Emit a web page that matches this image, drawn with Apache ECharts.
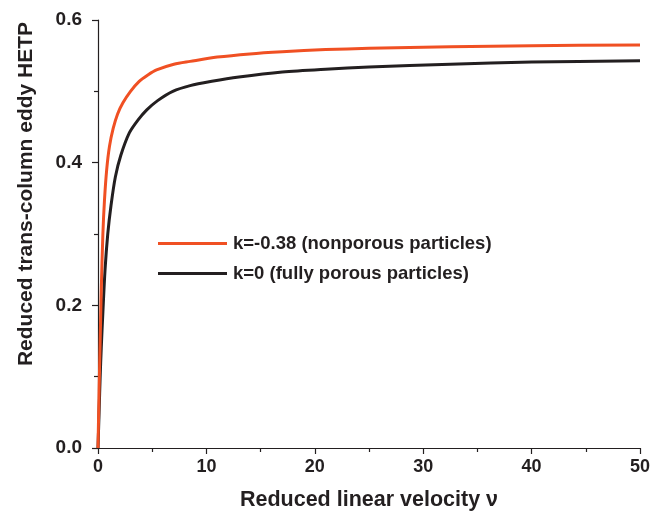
<!DOCTYPE html>
<html>
<head>
<meta charset="utf-8">
<script src="https://cdn.jsdelivr.net/npm/echarts@6/dist/echarts.min.js"></script>
<style>
  html, body { margin: 0; padding: 0; background: #fff; }
  #chart { width: 652px; height: 512px; }
</style>
</head>
<body>
<div id="chart"></div>
<script>
// Reduced linear velocity (x) and reduced trans-column eddy HETP (y)
const nonporousV = [0, 0.1, 0.2, 0.3, 0.45, 0.6, 0.8, 1.06, 1.4, 1.8, 2.3, 3, 3.8, 4.6, 5.4, 7, 8.5, 11, 14, 17, 21, 25, 32.5, 40, 50];
const nonporousH = [0, 0.08, 0.15, 0.22, 0.30, 0.348, 0.39, 0.423, 0.448, 0.468, 0.484, 0.500, 0.514, 0.523, 0.530, 0.538, 0.542, 0.548, 0.5525, 0.5555, 0.5585, 0.5603, 0.5625, 0.564, 0.565];

const porousV = [0, 0.1, 0.2, 0.3, 0.45, 0.65, 0.9, 1.2, 1.6, 2.1, 2.9, 3.7, 4.5, 5.5, 6.9, 8.5, 10.5, 13, 17, 21, 25, 32.5, 40, 50];
const porousH = [0, 0.05, 0.10, 0.14, 0.19, 0.25, 0.30, 0.34, 0.38, 0.41, 0.442, 0.460, 0.474, 0.487, 0.500, 0.508, 0.514, 0.520, 0.527, 0.531, 0.534, 0.538, 0.541, 0.543];

const seriesNames = ['k=-0.38 (nonporous particles)', 'k=0 (fully porous particles)'];
const xTitle = 'Reduced linear velocity \u03bd';
const yTitle = 'Reduced trans-column eddy HETP';

const pairs = (xs, ys) => xs.map((x, i) => [x, ys[i]]);
const ink = '#231f20';
const font = 'Liberation Sans, Arial, sans-serif';

const chart = echarts.init(document.getElementById('chart'));
chart.setOption({
  animation: false,
  backgroundColor: '#fff',
  grid: { left: 98, right: 12, top: 20, bottom: 64, containLabel: false, outerBoundsMode: 'none' },
  legend: {
    orient: 'vertical',
    left: 153,
    top: 229,
    icon: 'rect',
    itemWidth: 69,
    itemHeight: 3,
    itemGap: 11,
    textStyle: { fontFamily: font, fontWeight: 'bold', fontSize: 18.5, color: ink, padding: [0, 0, 0, 1] },
    data: seriesNames
  },
  graphic: [{
    type: 'text',
    x: 26,
    y: 194,
    rotation: Math.PI / 2,
    style: {
      text: yTitle,
      fontFamily: font, fontWeight: 'bold', fontSize: 21,
      fill: ink,
      align: 'center',
      verticalAlign: 'middle'
    }
  }],
  xAxis: {
    type: 'value',
    min: 0, max: 50, interval: 10,
    name: xTitle,
    nameLocation: 'middle',
    nameGap: 41,
    nameTextStyle: { fontFamily: font, fontWeight: 'bold', fontSize: 21.5, color: ink },
    axisLine: { show: true, lineStyle: { color: ink, width: 1.2 } },
    axisTick: { show: true, length: 6, lineStyle: { color: ink, width: 1.2 } },
    minorTick: { show: true, splitNumber: 2, length: 4, lineStyle: { color: ink, width: 1.2 } },
    axisLabel: { fontFamily: font, fontWeight: 'bold', fontSize: 18, color: ink, margin: 10 },
    splitLine: { show: false }
  },
  yAxis: {
    type: 'value',
    min: 0, max: 0.6, interval: 0.2,
    axisLine: { show: true, lineStyle: { color: ink, width: 1.2 } },
    axisTick: { show: true, length: 6, lineStyle: { color: ink, width: 1.2 } },
    minorTick: { show: true, splitNumber: 2, length: 4, lineStyle: { color: ink, width: 1.2 } },
    axisLabel: { fontFamily: font, fontWeight: 'bold', fontSize: 19, color: ink, margin: 16,
      formatter: v => v.toFixed(1) },
    splitLine: { show: false }
  },
  series: [
    {
      name: seriesNames[0],
      type: 'line',
      data: pairs(nonporousV, nonporousH),
      smooth: 0.3,
      showSymbol: false,
      lineStyle: { color: '#f05023', width: 3 },
      itemStyle: { color: '#f05023' },
      z: 3
    },
    {
      name: seriesNames[1],
      type: 'line',
      data: pairs(porousV, porousH),
      smooth: 0.3,
      showSymbol: false,
      lineStyle: { color: ink, width: 3 },
      itemStyle: { color: ink },
      z: 2
    }
  ]
});
</script>
</body>
</html>
